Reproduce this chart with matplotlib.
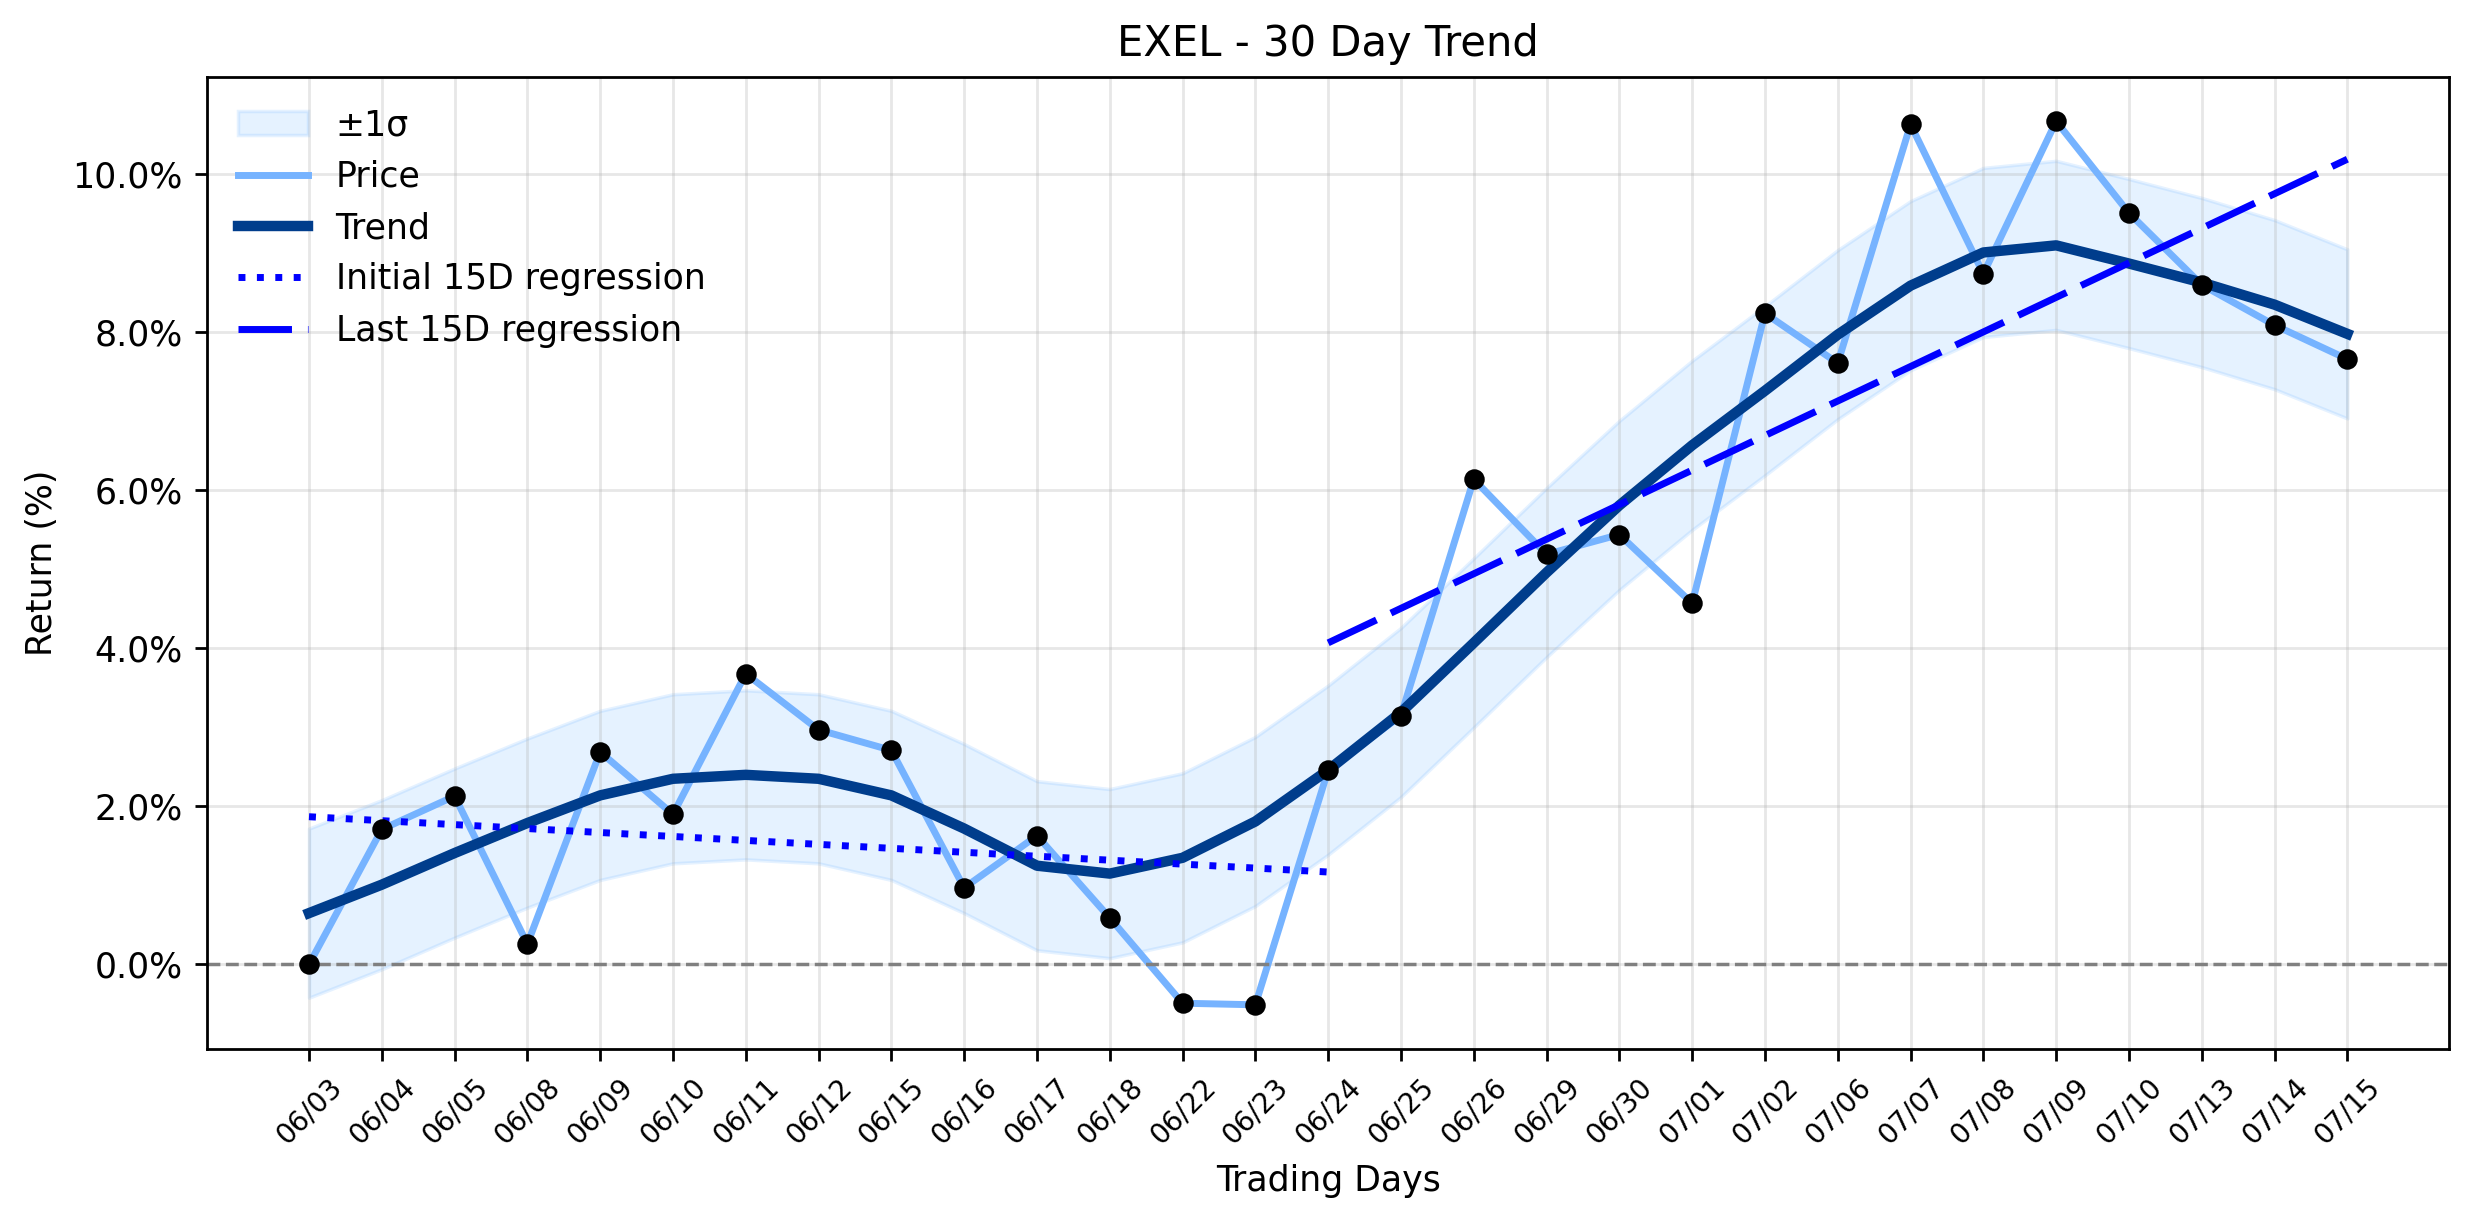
import matplotlib.pyplot as plt
import numpy as np
from matplotlib.ticker import PercentFormatter

dates = ["06/03", "06/04", "06/05", "06/08", "06/09", "06/10", "06/11", "06/12",
         "06/15", "06/16", "06/17", "06/18", "06/22", "06/23", "06/24", "06/25",
         "06/26", "06/29", "06/30", "07/01", "07/02", "07/06", "07/07", "07/08",
         "07/09", "07/10", "07/13", "07/14", "07/15"]

price = [0.00, 1.71, 2.13, 0.26, 2.69, 1.90, 3.68, 2.97, 2.71, 0.97,
         1.63, 0.59, -0.49, -0.51, 2.46, 3.15, 6.14, 5.19, 5.44, 4.57,
         8.24, 7.61, 10.63, 8.74, 10.67, 9.51, 8.60, 8.09, 7.66]

trend = [0.65, 1.01, 1.41, 1.79, 2.14, 2.35, 2.40, 2.35, 2.14, 1.72,
         1.25, 1.15, 1.35, 1.81, 2.46, 3.19, 4.07, 4.96, 5.81, 6.57,
         7.26, 7.97, 8.59, 9.01, 9.10, 8.87, 8.63, 8.35, 7.98]

sigma = 1.07

# regression endpoints (first / last 15 days)
init_reg = [1.87, 1.17]
last_reg = [4.07, 10.19]

x = np.arange(len(dates))
trend = np.array(trend)

fig, ax = plt.subplots(figsize=(2474 / 250, 1224 / 250), dpi=250)
fig.subplots_adjust(left=0.0837, right=0.990, top=0.937, bottom=0.143)

ax.fill_between(x, trend - sigma, trend + sigma, color='#3d9bff', alpha=0.13,
                label='±1σ')
ax.plot(x, price, color='#76b3ff', linewidth=2, label='Price')
ax.scatter(x, price, color='black', s=24, zorder=5)
ax.plot(x, trend, color='#003d8c', linewidth=3, label='Trend')
ax.plot([x[0], x[14]], init_reg, color='blue', linestyle=':', linewidth=2,
        label='Initial 15D regression')
ax.plot([x[14], x[-1]], last_reg, color='blue', linestyle=(0, (7.7, 2.3)),
        linewidth=2, label='Last 15D regression')
ax.axhline(0, color='gray', linestyle='--', linewidth=1)

ax.set_xticks(x)
ax.set_xticklabels(dates, rotation=45, fontsize=8)
ax.yaxis.set_major_formatter(PercentFormatter(decimals=1))

ax.set_title("EXEL - 30 Day Trend", fontsize=12)
ax.set_xlabel("Trading Days")
ax.set_ylabel("Return (%)")
ax.grid(True, alpha=0.3)
ax.legend(loc='upper left', frameon=False)

plt.savefig("out.png", dpi=250)
